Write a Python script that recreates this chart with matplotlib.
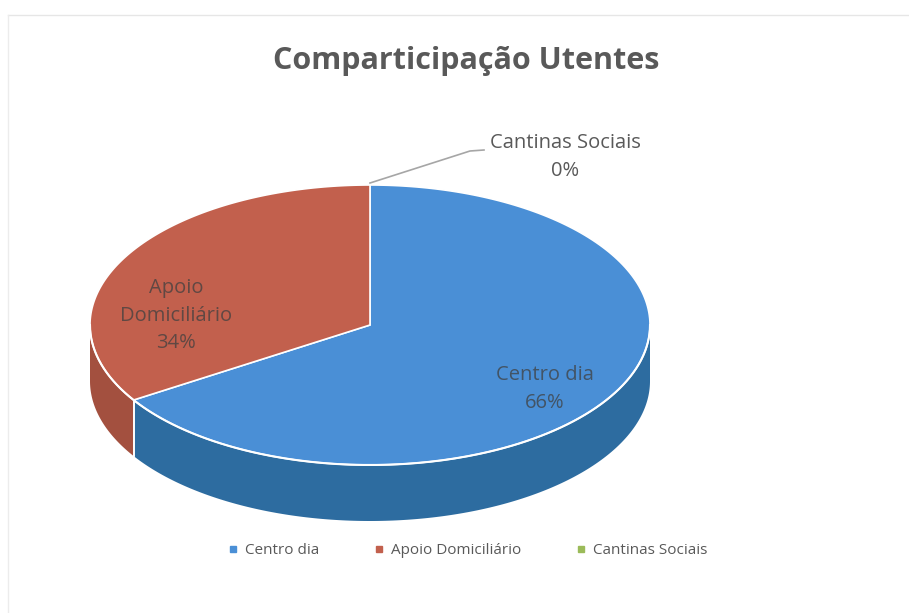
import numpy as np
import matplotlib.pyplot as plt
from matplotlib.patches import Polygon
from matplotlib.lines import Line2D

plt.rcParams['font.family'] = ['Open Sans', 'DejaVu Sans']

categories = ['Centro dia', 'Apoio Domiciliário', 'Cantinas Sociais']
values = [66, 34, 0]
top_colors = ['#4a8fd6', '#c2604d', '#9bbb59']
side_colors = ['#2d6ca0', '#a3503f', '#76923c']

# ellipse geometry in pixel space
cx, cy = 370, 325
a, b = 280, 140
depth = 56


def rim(t):
    r = np.radians(t)
    return cx + a * np.cos(r), cy - b * np.sin(r)


def arc(t1, t2, n=200):
    ts = np.linspace(t1, t2, n)
    x, y = rim(ts)
    return np.column_stack([x, y])


fig = plt.figure(figsize=(9.09, 6.13), dpi=100, facecolor='white')
ax = fig.add_axes([0, 0, 1, 1])
ax.set_xlim(0, 909)
ax.set_ylim(613, 0)
ax.axis('off')

# faint chart border
ax.plot([8, 909], [15, 15], color='#e6e6e6', lw=1)
ax.plot([8, 8], [15, 613], color='#ececec', lw=1)

total = float(sum(values))
cum = np.concatenate([[0], np.cumsum(values)])
starts = 90 - 360 * cum[:-1] / total
ends = 90 - 360 * cum[1:] / total

# side walls (front half only)
for s, e, col in zip(starts, ends, side_colors):
    lo, hi = min(s, e), max(s, e)
    for k in (-360, 0, 360):
        f1, f2 = max(lo, -180 + k), min(hi, 0 + k)
        if f2 > f1:
            top = arc(f1, f2)
            bot = top[::-1] + [0, depth]
            ax.add_patch(Polygon(np.vstack([top, bot]), closed=True,
                                 facecolor=col, edgecolor='none', zorder=2))
            for t in (s, e):
                tt = ((t + 180) % 360) - 180
                if -180 < tt < 0:
                    x0, y0 = rim(t)
                    ax.plot([x0, x0], [y0, y0 + depth], color='white',
                            lw=1.2, zorder=3)

# top faces
for s, e, col in zip(starts, ends, top_colors):
    if s == e:
        continue
    pts = np.vstack([[cx, cy], arc(s, e), [cx, cy]])
    ax.add_patch(Polygon(pts, closed=True, facecolor=col,
                         edgecolor='white', lw=1.2, zorder=4))

# white rim highlight on the front
front = arc(-180, 0)
ax.plot(front[:, 0], front[:, 1], color='white', lw=1.5, zorder=5)

# data labels
txt_col = '#595959'
lab_pos = {0: (545, 389), 1: (176, 316)}
for i, (cat, v) in enumerate(zip(categories, values)):
    pct = f'{round(100 * v / total)}%'
    if v == 0:
        x0, y0 = rim(starts[i])
        ax.plot([x0, 470, 484], [y0 - 2, 151, 150], color='#a6a6a6',
                lw=1.2, zorder=6)
        ax.text(565, 157, f'{cat}\n{pct}', ha='center', va='center',
                fontsize=14.5, color=txt_col, linespacing=1.5, zorder=6)
    else:
        label = cat.replace(' ', '\n') if i == 1 else cat
        ax.text(*lab_pos[i], f'{label}\n{pct}', ha='center', va='center',
                fontsize=14.5, color='#404040', alpha=0.75,
                linespacing=1.5, zorder=6)

ax.text(466, 61, 'Comparticipação Utentes', ha='center', va='center',
        fontsize=22, fontweight='bold', color='#595959')

handles = [Line2D([], [], marker='s', ls='', markersize=4,
                  markerfacecolor=c, markeredgecolor=c) for c in top_colors]
ax.legend(handles, categories, loc='center', bbox_to_anchor=(468 / 909, 1 - 551 / 613),
          ncol=3, frameon=False, fontsize=11, handlelength=0.6,
          handletextpad=0.5, columnspacing=3.6, labelcolor='#595959')

fig.savefig('out.png', dpi=100, facecolor='white')
